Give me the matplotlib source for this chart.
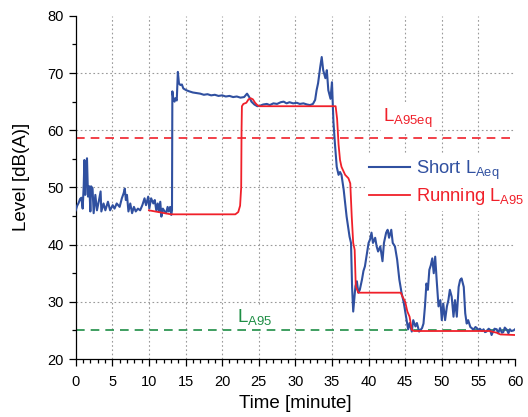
import matplotlib
matplotlib.use("Agg")
import matplotlib.pyplot as plt
from matplotlib.ticker import MultipleLocator

plt.rcParams['font.family'] = ['Liberation Sans', 'DejaVu Sans']
plt.rcParams['mathtext.fontset'] = 'custom'
plt.rcParams['mathtext.rm'] = 'Liberation Sans'
plt.rcParams['mathtext.default'] = 'regular'

# ---- data ----
short_t = [0.0, 0.2, 0.4, 0.6, 0.77, 0.95, 1.1, 1.18, 1.3, 1.42, 1.54, 1.68, 1.86, 2.0, 2.1, 2.3,
           2.45, 2.68, 2.9, 3.14, 3.4, 3.5, 3.8, 4.05, 4.4, 4.7, 5.05, 5.3, 5.6, 6.0, 6.3, 6.55,
           6.7, 6.85, 7.0, 7.2, 7.45, 7.7, 7.95, 8.2, 8.5, 8.8, 9.1, 9.4, 9.6, 9.9, 10.05, 10.3,
           10.6, 10.8, 11.0, 11.2, 11.35, 11.55, 11.7, 11.9, 12.15, 12.35, 12.55, 12.7, 12.9, 13.05,
           13.15, 13.2, 13.35, 13.5, 13.6, 13.8, 13.95, 14.1, 14.3, 14.5, 14.7, 15.1, 15.5, 16.0,
           16.5, 17.0, 17.5, 18.0, 18.5, 19.0, 19.5, 20.0, 20.5, 21.0, 21.5, 22.0, 22.5, 23.0,
           23.4, 23.7, 24.0, 24.4, 24.8, 25.2, 25.6, 26.1, 26.5, 27.0, 27.5, 28.0, 28.4, 28.8,
           29.2, 29.7, 30.2, 30.6, 31.1, 31.6, 32.0, 32.4, 32.7, 32.9, 33.1, 33.4, 33.6, 33.8,
           34.1, 34.3, 34.5, 34.8, 35.0, 35.1, 35.2, 35.4, 35.65, 35.9, 36.1, 36.3, 36.6, 37.0,
           37.4, 37.6, 37.75, 37.9, 38.2, 38.4, 38.6, 38.8, 39.1, 39.3, 39.5, 39.8, 40.0, 40.2,
           40.4, 40.6, 40.9, 41.1, 41.3, 41.6, 41.8, 41.9, 42.1, 42.4, 42.6, 42.8, 43.1, 43.3,
           43.6, 43.9, 44.2, 44.5, 44.8, 45.1, 45.4, 45.6, 45.9, 46.1, 46.4, 46.6, 46.9, 47.1,
           47.3, 47.5, 47.7, 47.9, 48.1, 48.3, 48.5, 48.7, 48.9, 49.1, 49.3, 49.55, 49.8, 50.0,
           50.2, 50.45, 50.7, 50.9, 51.1, 51.35, 51.6, 51.8, 52.05, 52.3, 52.5, 52.7, 53.0, 53.2,
           53.4, 53.6, 53.9, 54.1, 54.3, 54.6, 54.8, 55.0, 55.2, 55.5, 55.7, 55.9, 56.1, 56.4,
           56.6, 56.8, 57.0, 57.2, 57.5, 57.7, 57.95, 58.2, 58.4, 58.6, 58.9, 59.1, 59.3, 59.5,
           59.8, 60.0]
short_leq = [46.0, 46.8, 47.3, 48.0, 48.2, 46.3, 50.5, 54.8, 48.7, 52.5, 55.1, 48.4, 50.2, 45.8, 50.2, 49.8,
             45.5, 48.7, 46.0, 47.5, 49.3, 45.8, 47.2, 46.0, 47.5, 46.0, 46.9, 46.3, 47.2, 46.6, 48.1, 49.0,
             49.8, 47.8, 48.7, 45.8, 47.2, 45.5, 46.6, 45.8, 46.3, 46.0, 46.9, 48.1, 46.9, 48.4, 46.3, 48.1,
             47.2, 47.8, 46.0, 47.2, 45.8, 47.5, 44.9, 46.3, 45.8, 45.5, 46.6, 45.8, 46.6, 45.2,
             46.0, 66.8, 65.3, 65.0, 65.6, 65.2, 70.2, 68.2, 67.9, 68.0, 67.3, 67.0, 66.8, 66.6,
             66.5, 66.4, 66.2, 66.3, 66.1, 66.2, 66.0, 66.1, 65.9, 66.0, 65.8, 65.9, 65.7, 65.8,
             66.4, 65.8, 65.0, 64.5, 64.2, 64.3, 64.5, 64.6, 64.4, 64.7, 64.6, 64.9, 65.0, 64.7,
             64.9, 64.7, 64.8, 64.6, 64.7, 64.5, 64.4, 64.6, 65.3, 67.0, 68.2, 71.1, 72.8, 70.5,
             69.1, 70.5, 67.0, 65.5, 68.4, 64.7, 61.5, 57.7, 53.6, 52.2, 52.7, 52.2, 49.6, 44.9,
             41.4, 40.3, 32.5, 28.3, 32.7, 33.6, 31.6, 32.1, 33.9, 35.4, 36.2, 38.6, 40.3, 40.9,
             42.1, 40.3, 41.2, 39.7, 38.8, 39.7, 38.0, 37.1, 40.3, 42.1, 42.6, 41.2, 42.6, 40.3,
             39.7, 37.4, 33.9, 31.6, 29.9, 27.5, 25.2, 26.3, 24.8, 26.8, 25.7, 26.3, 24.8, 25.1,
             25.4, 26.2, 29.2, 33.2, 32.1, 35.6, 36.4, 37.6, 35.0, 37.9, 33.8, 29.2, 30.3, 26.8,
             29.7, 26.8, 29.2, 30.3, 32.1, 30.9, 27.4, 30.3, 27.4, 32.6, 33.8, 34.1, 32.6, 28.0,
             26.2, 26.8, 25.6, 25.4, 25.1, 25.6, 25.4, 25.0, 25.3, 24.9, 25.2, 24.7, 24.8, 25.3,
             25.1, 24.2, 24.8, 25.3, 25.2, 24.5, 25.4, 24.6, 24.7, 25.5, 25.1, 24.5, 25.2, 24.9,
             25.0, 25.2]

running_t = [10.0, 13.0, 21.8, 22.2, 22.45, 22.6, 22.65, 22.7, 22.9, 23.3, 23.6, 23.9, 24.2, 24.5,
             24.8, 25.1, 35.5, 35.7, 35.9, 36.1, 36.3, 36.8, 37.25, 37.5, 37.7, 37.9, 38.1, 38.25,
             38.6, 44.4, 44.6, 45.0, 45.3, 45.6, 45.9, 46.2, 56.5, 57.5, 58.0, 60.0]
running_la95 = [46.0, 45.3, 45.3, 45.7, 46.8, 50.0, 60.0, 64.2, 64.6, 64.8, 65.4, 65.6, 65.4, 64.8,
                64.4, 64.2, 64.2, 62.0, 57.5, 54.8, 53.6, 52.2, 51.6, 50.7, 44.9, 40.3, 39.1, 32.7,
                31.6, 31.6, 31.0, 30.0, 28.3, 27.4, 25.1, 24.9, 24.9, 24.6, 24.3, 24.2]

la95eq = 58.7
la95 = 25.0

x_ticks = list(range(0, 61, 5))
y_ticks = list(range(20, 81, 10))

blue = '#3050A0'
red = '#F0202A'
green = '#1E8E45'
grid_c = '#9A9A9A'

fig = plt.figure(figsize=(5.28, 4.17), dpi=100)
ax = fig.add_axes([0.1434, 0.139, 0.832, 0.823])

ax.set_xlim(0, 60)
ax.set_ylim(20, 80)
ax.set_xticks(x_ticks)
ax.set_yticks(y_ticks)
ax.xaxis.set_minor_locator(MultipleLocator(1))
ax.yaxis.set_minor_locator(MultipleLocator(5))
ax.tick_params(axis='both', which='major', direction='out', length=5, width=0.9, labelsize=10.5)
ax.tick_params(axis='x', which='major', pad=6.5)
ax.tick_params(axis='y', which='major', pad=3.5)
ax.tick_params(axis='both', which='minor', direction='out', length=2.8, width=0.9)
for s in ['top', 'right']:
    ax.spines[s].set_visible(False)
for s in ['left', 'bottom']:
    ax.spines[s].set_linewidth(0.9)

# dotted grid on interior major ticks only
for xv in x_ticks[1:-1]:
    ax.axvline(xv, color=grid_c, linestyle=(0, (1.5, 2.3)), linewidth=0.8, zorder=0.5)
for yv in y_ticks[1:-1]:
    ax.axhline(yv, color=grid_c, linestyle=(0, (1.5, 2.3)), linewidth=0.8, zorder=0.5)

ax.axhline(la95eq, color=red, linestyle=(0, (5.2, 3.6)), linewidth=1.2, zorder=2)
ax.axhline(la95, color=green, linestyle=(0, (5.2, 3.6)), linewidth=1.2, zorder=2)

l1, = ax.plot(short_t, short_leq, color=blue, linewidth=1.5, zorder=3, label='Short L$_{Aeq}$')
l2, = ax.plot(running_t, running_la95, color=red, linewidth=1.3, zorder=4, label='Running L$_{A95}$')

ax.text(42.0, 61.5, 'L$_{A95eq}$', color=red, fontsize=13.5, ha='left', va='baseline', zorder=1,
        bbox=dict(facecolor='white', edgecolor='none', pad=1.5))
ax.text(22.0, 26.5, 'L$_{A95}$', color=green, fontsize=13.5, ha='left', va='baseline', zorder=1,
        bbox=dict(facecolor='white', edgecolor='none', pad=1.5))

leg = ax.legend(handles=[l1, l2], loc='upper left', bbox_to_anchor=(0.6586, 0.595),
                borderaxespad=0, fontsize=13.2, frameon=True, facecolor='white', edgecolor='none',
                framealpha=1, fancybox=False, handlelength=2.24, handletextpad=0.33,
                labelspacing=0.25, borderpad=0.2, labelcolor='linecolor')
leg.set_zorder(1)

ax.set_xlabel('Time [minute]', fontsize=13.5, labelpad=4)
ax.set_ylabel('Level [dB(A)]', fontsize=13.5)
ax.yaxis.set_label_coords(-0.104, 0.532)

fig.savefig('out.png', dpi=100)
